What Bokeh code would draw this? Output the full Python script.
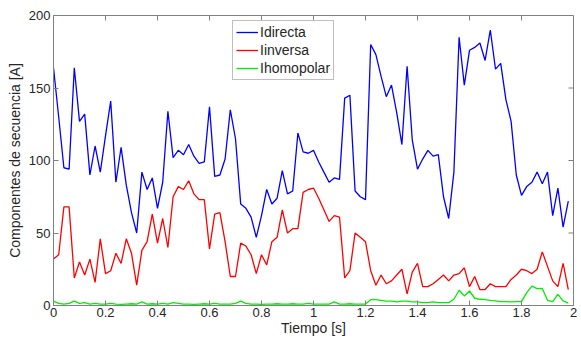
from bokeh.plotting import figure
from bokeh.models import Range1d, FixedTicker, Legend, LegendItem
from bokeh.embed import file_html
from bokeh.resources import INLINE

tiempo = [0.00, 0.02, 0.04, 0.06, 0.08, 0.10, 0.12, 0.14, 0.16, 0.18,
          0.20, 0.22, 0.24, 0.26, 0.28, 0.30, 0.32, 0.34, 0.36, 0.38,
          0.40, 0.42, 0.44, 0.46, 0.48, 0.50, 0.52, 0.54, 0.56, 0.58,
          0.60, 0.62, 0.64, 0.66, 0.68, 0.70, 0.72, 0.74, 0.76, 0.78,
          0.80, 0.82, 0.84, 0.86, 0.88, 0.90, 0.92, 0.94, 0.96, 0.98,
          1.00, 1.02, 1.04, 1.06, 1.08, 1.10, 1.12, 1.14, 1.16, 1.18,
          1.20, 1.22, 1.24, 1.26, 1.28, 1.30, 1.32, 1.34, 1.36, 1.38,
          1.40, 1.42, 1.44, 1.46, 1.48, 1.50, 1.52, 1.54, 1.56, 1.58,
          1.60, 1.62, 1.64, 1.66, 1.68, 1.70, 1.72, 1.74, 1.76, 1.78,
          1.80, 1.82, 1.84, 1.86, 1.88, 1.90, 1.92, 1.94, 1.96, 1.98]

idirecta = [164, 130, 95, 94, 164, 127, 132, 90, 110, 92,
            117, 141, 85, 109, 83, 64, 50, 92, 80, 88,
            67, 85, 134, 102, 107, 104, 111, 103, 98, 99,
            137, 89, 90, 101, 135, 115, 70, 67, 61, 47,
            62, 80, 70, 74, 93, 77, 79, 119, 106, 105,
            107, 99, 92, 85, 88, 87, 143, 145, 79, 75,
            73, 180, 173, 158, 144, 152, 133, 111, 165, 114,
            94, 101, 107, 103, 104, 75, 60, 92, 185, 152,
            176, 178, 181, 169, 190, 163, 167, 142, 127, 90,
            76, 82, 85, 92, 84, 92, 62, 81, 54, 72]

iinversa = [32, 35, 68, 68, 19, 30, 21, 32, 16, 46,
            22, 24, 36, 29, 46, 36, 14, 38, 44, 63,
            43, 60, 40, 75, 82, 80, 86, 77, 73, 73,
            39, 63, 64, 44, 20, 20, 43, 41, 35, 22,
            35, 28, 44, 47, 66, 50, 53, 53, 78, 80,
            81, 74, 66, 58, 62, 61, 19, 24, 50, 47,
            44, 24, 14, 21, 15, 17, 21, 25, 8, 23,
            29, 13, 13, 15, 18, 21, 17, 21, 22, 26,
            13, 20, 11, 11, 15, 13, 13, 13, 18, 21,
            25, 24, 22, 25, 37, 27, 17, 13, 29, 11]

ihomopolar = [3, 1.5, 1, 1.5, 3, 1.5, 2, 1, 1.5, 1,
              1, 1.5, 1, 0.8, 1, 1.2, 1, 2.5, 1, 1.2,
              1, 1.5, 1, 2, 1.5, 1, 1, 0.8, 1, 1.2,
              1, 1.5, 1, 1, 1, 1.5, 3, 1.5, 1, 1,
              0.8, 1, 1, 1.2, 1, 1, 1.2, 1, 1, 1.5,
              1, 1, 1, 1, 2.5, 1, 1, 1.2, 1, 1,
              1, 4, 4, 3.5, 3, 3, 2.5, 3, 3, 2.5,
              2.5, 2, 2, 2.5, 2, 2, 2, 4.3, 10.5, 6.6,
              10, 5, 4.3, 4.1, 3.6, 3.2, 2.7, 2.7, 2.5, 2.7,
              2.7, 8.9, 13.4, 11.6, 11.8, 3.6, 2.7, 7.7, 3.2, 1.6]

x_ticks = [0, 0.2, 0.4, 0.6, 0.8, 1.0, 1.2, 1.4, 1.6, 1.8, 2.0]
y_ticks = [0, 50, 100, 150, 200]
x_tick_labels = {0: "0", 0.2: "0.2", 0.4: "0.4", 0.6: "0.6", 0.8: "0.8", 1.0: "1",
                 1.2: "1.2", 1.4: "1.4", 1.6: "1.6", 1.8: "1.8", 2.0: "2"}

FONT = "Liberation Sans"
AX = "#808080"
TXT = "#262626"

W, H = 581, 338
BL, BR, BT, BB = 53, 8, 15, 30
X0, X1, Y0, Y1 = 0, 2, 0, 200

p = figure(width=W, height=H, output_backend="svg", toolbar_location=None,
           x_range=Range1d(X0, X1), y_range=Range1d(Y0, Y1),
           min_border_left=BL, min_border_right=BR, min_border_top=BT, min_border_bottom=BB)
p.background_fill_color = "white"
p.border_fill_color = "white"
p.grid.visible = False
p.outline_line_color = AX
p.outline_line_width = 1

for ax in (p.xaxis[0], p.yaxis[0]):
    ax.axis_line_color = AX
    ax.major_tick_line_color = AX
    ax.major_tick_in = 5
    ax.major_tick_out = 0
    ax.minor_tick_line_color = None
    ax.major_label_text_font = FONT
    ax.major_label_text_font_size = "13px"
    ax.major_label_text_color = TXT
    ax.major_label_standoff = 3
    ax.axis_label_text_font = FONT
    ax.axis_label_text_font_size = "14px"
    ax.axis_label_text_font_style = "normal"
    ax.axis_label_text_color = TXT

p.xaxis.ticker = FixedTicker(ticks=x_ticks)
p.xaxis.major_label_overrides = x_tick_labels
p.xaxis.major_label_standoff = 2
p.xaxis.axis_label = "Tiempo [s]"
p.xaxis.axis_label_standoff = 0
p.yaxis.ticker = FixedTicker(ticks=y_ticks)
p.yaxis.axis_label = "Componentes de secuencia [A]"
p.yaxis.axis_label_standoff = 3

# inward ticks on the top and right edges of the box (5 px long)
frame_w = W - BL - BR
frame_h = H - BT - BB
tick_dy = 5 * (Y1 - Y0) / frame_h
tick_dx = 5 * (X1 - X0) / frame_w
p.segment(x0=x_ticks, y0=[Y1] * len(x_ticks), x1=x_ticks, y1=[Y1 - tick_dy] * len(x_ticks),
          line_color=AX, line_width=1)
p.segment(x0=[X1] * len(y_ticks), y0=y_ticks, x1=[X1 - tick_dx] * len(y_ticks), y1=y_ticks,
          line_color=AX, line_width=1)

r1 = p.line(tiempo, idirecta, line_color="#0000ff", line_width=1.3)
r2 = p.line(tiempo, iinversa, line_color="#ff0000", line_width=1.3)
r3 = p.line(tiempo, ihomopolar, line_color="#00ee00", line_width=1.3)

legend = Legend(items=[LegendItem(label="Idirecta", renderers=[r1]),
                       LegendItem(label="Iinversa", renderers=[r2]),
                       LegendItem(label="Ihomopolar", renderers=[r3])],
                location=(179, 225))
legend.label_text_font = FONT
legend.label_text_font_size = "14px"
legend.label_text_color = TXT
legend.label_height = 16
legend.glyph_height = 16
legend.glyph_width = 22
legend.label_standoff = 2
legend.spacing = 2
legend.padding = 3
legend.margin = 0
legend.border_line_color = AX
legend.border_line_width = 1
legend.background_fill_color = "white"
legend.background_fill_alpha = 1
p.add_layout(legend)

open("out.html", "w").write(file_html(p, INLINE))
